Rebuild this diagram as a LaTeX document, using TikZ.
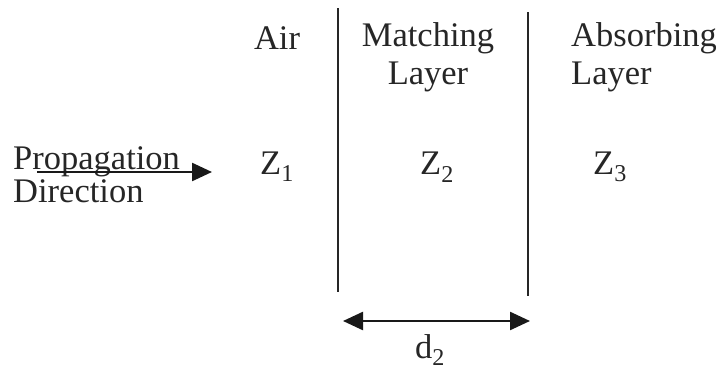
\documentclass[tikz,border=0pt]{standalone}
\usepackage{fontspec}
\setmainfont{Liberation Serif}
\usetikzlibrary{arrows.meta}
\tikzset{
  lbl/.style={font=\fontsize{34.5}{38}\selectfont, inner sep=0pt, text=black!85},
  divider/.style={line width=1.8pt, black!85},
  arr/.style={line width=2.4pt, black!90, -{Triangle[length=20pt,width=18pt]}},
  darr/.style={line width=2.4pt, black!90, {Triangle[length=20pt,width=18pt]}-{Triangle[length=20pt,width=18pt]}}
}
\begin{document}
\begin{tikzpicture}[x=1pt,y=-1pt]
\useasboundingbox (0,0) rectangle (716,372);
% dividers
\coordinate (l1t) at (338,8);
\coordinate (l1b) at (338,292);
\coordinate (l2t) at (528,12);
\coordinate (l2b) at (528,296);
\draw[divider] (l1t) -- (l1b);
\draw[divider] (l2t) -- (l2b);
% headings
\node[lbl] (air) at (277,38) {Air};
\node[lbl, align=center] (match) at (428,57) {Matching\\Layer};
\node[lbl, align=left, anchor=west] (abs) at (571,57) {Absorbing\\Layer};
% impedances
\node[lbl] (z1) at (277,167) {Z\textsubscript{1}};
\node[lbl] (z2) at (437,167) {Z\textsubscript{2}};
\node[lbl] (z3) at (610,167) {Z\textsubscript{3}};
% propagation
\node[lbl, font=\fontsize{34.5}{33}\selectfont, align=left, anchor=west] (prop) at (13,175) {Propagation\\Direction};
\coordinate (pa) at (37,172);
\coordinate (pb) at (212,172);
\draw[arr] (pa) -- (pb);
% thickness
\coordinate (da) at (343,321);
\coordinate (db) at (530,321);
\draw[darr] (da) -- (db);
\node[lbl] (d2) at (430,350) {d\textsubscript{2}};
\end{tikzpicture}
\end{document}
